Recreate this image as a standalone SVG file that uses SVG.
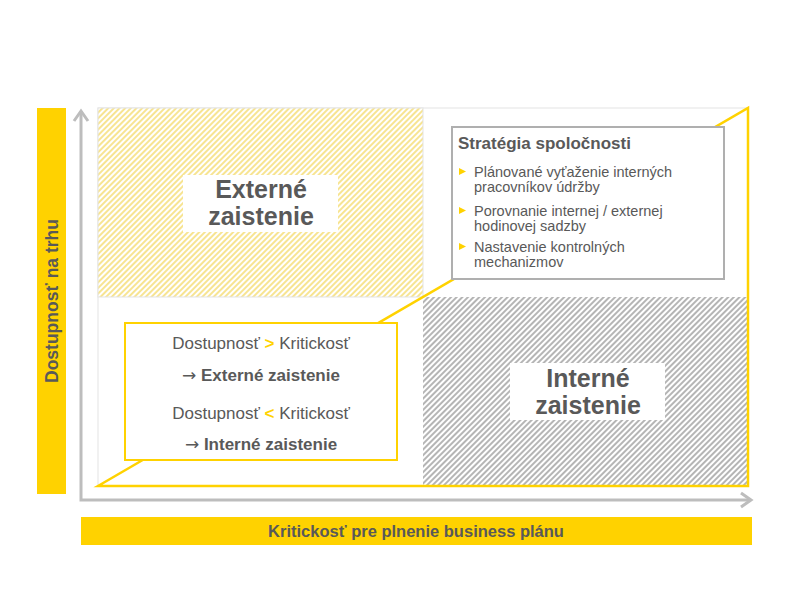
<svg xmlns="http://www.w3.org/2000/svg" width="792" height="594" viewBox="0 0 792 594">
<defs>
<pattern id="hatchY" width="4" height="4" patternUnits="userSpaceOnUse" patternTransform="rotate(45)">
<rect width="4" height="4" fill="#ffffff"/>
<line x1="1" y1="0" x2="1" y2="4" stroke="#F6E07E" stroke-width="1.7"/>
</pattern>
<pattern id="hatchG" width="4" height="4" patternUnits="userSpaceOnUse" patternTransform="rotate(45)">
<rect width="4" height="4" fill="#ffffff"/>
<line x1="1" y1="0" x2="1" y2="4" stroke="#A8A8A8" stroke-width="1.7"/>
</pattern>
</defs>
<style>
.t{font-family:"Liberation Sans",Arial,sans-serif;fill:#595959}
.b{font-weight:bold}
.ar{font-family:"DejaVu Sans",sans-serif;font-weight:normal}
.axis{stroke:#BDBDBD;stroke-width:3;fill:none}
.y{fill:#FFD200}
</style>
<rect width="792" height="594" fill="#ffffff"/>

<g id="plot-area">
<rect x="98" y="108" width="650" height="378" fill="#ffffff" stroke="#E3E3E3" stroke-width="1"/>
<rect x="98" y="108" width="325" height="189" fill="url(#hatchY)" stroke="#E3E3E3" stroke-width="1"/>
<rect x="423" y="297" width="325" height="189" fill="url(#hatchG)"/>
</g>

<g id="yellow-triangle">
<polygon points="98,486 748,108 748,486" fill="none" stroke="#FFD200" stroke-width="2.5" stroke-linejoin="miter"/>
</g>

<g id="axes">
<polyline class="axis" points="81,111 81,500 751,500"/>
<polyline class="axis" points="74,121 81,111 88,121"/>
<polyline class="axis" points="741,493 751,500 741,507"/>
</g>

<g id="y-label">
<rect class="y" x="37" y="108" width="29" height="386"/>
<text class="t b" x="52" y="301" font-size="17.5" text-anchor="middle" dominant-baseline="central" transform="rotate(-90 52 301)">Dostupnosť na trhu</text>
</g>

<g id="x-label">
<rect class="y" x="81" y="517" width="671" height="28"/>
<text class="t b" x="416" y="537" font-size="16.5" text-anchor="middle">Kritickosť pre plnenie business plánu</text>
</g>

<g id="externe">
<rect x="183" y="175" width="155" height="57" fill="#ffffff"/>
<text class="t b" x="261" y="198" font-size="25" text-anchor="middle">Externé</text>
<text class="t b" x="261" y="225" font-size="25" text-anchor="middle">zaistenie</text>
</g>

<g id="interne">
<rect x="510" y="363" width="155" height="57" fill="#ffffff"/>
<text class="t b" x="588" y="387" font-size="25" text-anchor="middle">Interné</text>
<text class="t b" x="588" y="414" font-size="25" text-anchor="middle">zaistenie</text>
</g>

<g id="strategia">
<rect x="452" y="127" width="272" height="152" fill="#ffffff" stroke="#AFAFAF" stroke-width="2"/>
<text class="t b" x="458" y="149" font-size="17">Stratégia spoločnosti</text>
<polygon class="y" points="459,168 466,171.5 459,175"/>
<text class="t" x="474" y="177" font-size="14.5">Plánované vyťaženie interných</text>
<text class="t" x="474" y="192" font-size="14.5">pracovníkov údržby</text>
<polygon class="y" points="459,207 466,210.5 459,214"/>
<text class="t" x="474" y="216" font-size="14.5">Porovnanie internej / externej</text>
<text class="t" x="474" y="231" font-size="14.5">hodinovej sadzby</text>
<polygon class="y" points="459,243 466,246.5 459,250"/>
<text class="t" x="474" y="252" font-size="14.5">Nastavenie kontrolných</text>
<text class="t" x="474" y="267" font-size="14.5">mechanizmov</text>
</g>

<g id="podmienky">
<rect x="125" y="323" width="272" height="137" fill="#ffffff" stroke="#FFD200" stroke-width="2"/>
<text class="t" x="261" y="349" font-size="17" text-anchor="middle">Dostupnosť <tspan class="b" fill="#FFD200">&gt;</tspan> Kritickosť</text>
<text class="t b" x="261" y="381" font-size="17" text-anchor="middle"><tspan class="ar">→</tspan> Externé zaistenie</text>
<text class="t" x="261" y="419" font-size="17" text-anchor="middle">Dostupnosť <tspan class="b" fill="#FFD200">&lt;</tspan> Kritickosť</text>
<text class="t b" x="261" y="450" font-size="17" text-anchor="middle"><tspan class="ar">→</tspan> Interné zaistenie</text>
</g>
</svg>
